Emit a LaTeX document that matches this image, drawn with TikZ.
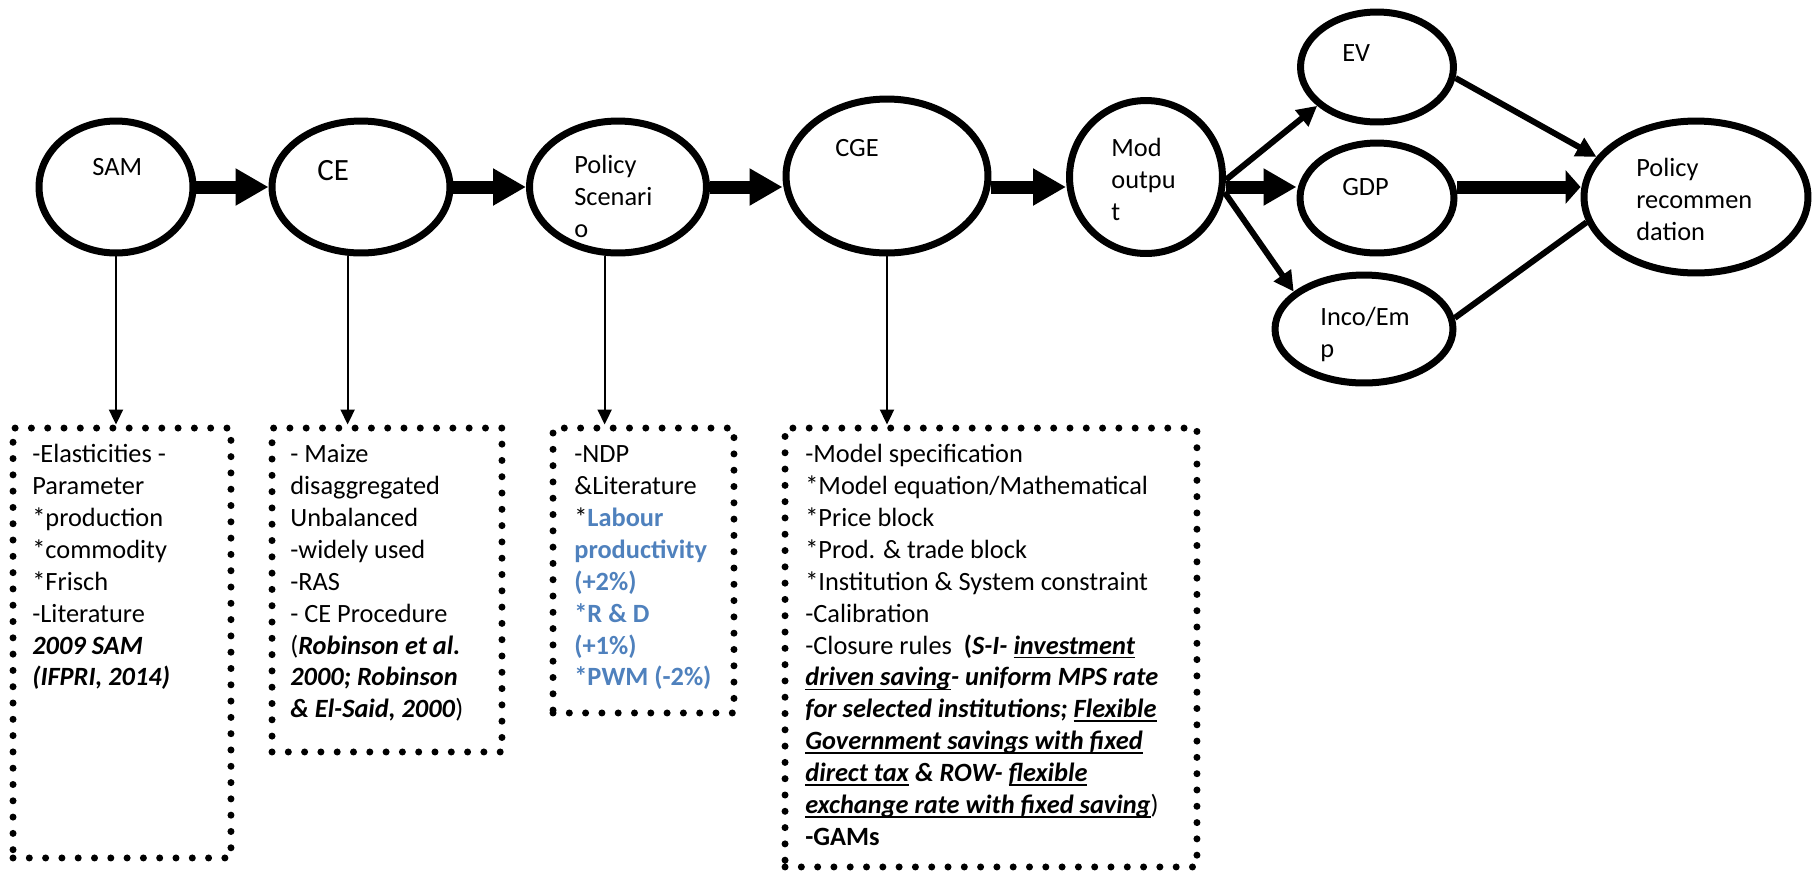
\documentclass[tikz,border=0pt]{standalone}
\usepackage{fontspec}
\setmainfont{Carlito}
\usetikzlibrary{arrows.meta}
\usetikzlibrary{shapes.geometric}
\usepackage{xcolor}
\definecolor{accentblue}{RGB}{79,129,189}
\newsavebox{\ulinebox}
\newcommand{\bluebold}[1]{\textcolor{accentblue}{\textbf{#1}}}
\newcommand{\boldit}[1]{\textbf{\textit{#1}}}
\newcommand{\bolditu}[1]{\sbox{\ulinebox}{\boldit{#1}}\rlap{\rule[-2.4pt]{\wd\ulinebox}{0.9pt}}\usebox{\ulinebox}}

\begin{document}
\begin{tikzpicture}[x=0.02cm, y=-0.02cm,
        bubble/.style={ellipse, draw, line width=0.14cm, inner sep=0pt},
        dotbox/.style={rectangle, draw, line width=0.14cm, line cap=round, dash pattern=on 0pt off 0.326cm, inner sep=0pt},
        txt/.style={anchor=north west, inner sep=0pt, align=left, font=\fontsize{15pt}{18.15pt}\selectfont},
        blockarrow/.style={line width=0.26cm, -{Triangle[length=0.66cm,width=0.70cm]}},
        slimarrow/.style={line width=0.12cm, -{Triangle[length=0.40cm,width=0.40cm]}},
        downarrow/.style={line width=0.04cm, -{Triangle[length=0.30cm,width=0.28cm]}}]

        \useasboundingbox (0,0) rectangle (1813,870);

        % ellipses
        \node[bubble, minimum width=3.08cm, minimum height=2.64cm] (sam) at (116,187) {};
        \node[bubble, minimum width=3.56cm, minimum height=2.64cm] (ce) at (361,187) {};
        \node[bubble, minimum width=3.54cm, minimum height=2.64cm] (scen) at (618,187) {};
        \node[bubble, minimum width=4.04cm, minimum height=3.08cm] (cge) at (887,176) {};
        \node[bubble, minimum width=3.06cm, minimum height=3.06cm] (mod) at (1146,177) {};
        \node[bubble, minimum width=3.06cm, minimum height=2.20cm] (ev) at (1377,67) {};
        \node[bubble, minimum width=3.08cm, minimum height=2.20cm] (gdp) at (1377,198) {};
        \node[bubble, minimum width=3.56cm, minimum height=2.16cm] (inco) at (1364,329) {};
        \node[bubble, minimum width=4.48cm, minimum height=3.04cm] (rec) at (1696,197) {};

        \node[txt] (samtxt) at (92,153) {\strut SAM};
        \node[txt, font=\fontsize{17.6pt}{21.3pt}\selectfont] (cetxt) at (317,154) {\strut CE};
        \node[txt] (scentxt) at (574,151) {\strut Policy\\Scenari\\o};
        \node[txt] (cgetxt) at (835,134) {\strut CGE};
        \node[txt] (modtxt) at (1111,134) {\strut Mod\\outpu\\t};
        \node[txt] (evtxt) at (1342,39) {\strut EV};
        \node[txt] (gdptxt) at (1342,173) {\strut GDP};
        \node[txt] (incotxt) at (1320,303) {\strut Inco/Em\\p};
        \node[txt] (rectxt) at (1636,154) {\strut Policy\\recommen\\dation};

        % dotted boxes
        \node[dotbox, minimum width=4.36cm, minimum height=8.60cm] (sambox) at (122,643) {};
        \node[dotbox, minimum width=4.60cm, minimum height=6.48cm] (cebox) at (387,590) {};
        \node[dotbox, minimum width=3.62cm, minimum height=5.70cm] (scenbox) at (643.5,570.5) {};
        \node[dotbox, minimum width=8.24cm, minimum height=8.78cm] (cgebox) at (991,647.5) {};

        \node[txt] (samlist) at (32,440) {\strut -Elasticities -\\Parameter\\*production\\*commodity\\*Frisch\\-Literature\\\boldit{2009 SAM}\\\boldit{(IFPRI, 2014)}};
        \node[txt] (celist) at (290,440) {\strut - Maize\\disaggregated\\Unbalanced\\-widely used\\-RAS\\- CE Procedure\\(\boldit{Robinson et al.}\\\boldit{2000; Robinson}\\\boldit{\& El-Said, 2000})};
        \node[txt] (scenlist) at (574,440) {\strut -NDP\\\&Literature\\*\bluebold{Labour}\\\bluebold{productivity}\\\bluebold{(+2\%)}\\\bluebold{*R \& D}\\\bluebold{(+1\%)}\\\bluebold{*PWM (-2\%)}};
        \node[txt] (cgelist) at (805,440) {\strut -Model specification\\*Model equation/Mathematical\\*Price block\\*Prod. \& trade block\\*Institution \& System constraint\\-Calibration\\-Closure rules~~\textbf{(}\boldit{S-I-} \bolditu{investment}\\\bolditu{driven saving}\boldit{- uniform MPS rate}\\\boldit{for selected institutions; }\bolditu{Flexible}\\\bolditu{Government savings with fixed}\\\bolditu{direct tax}\boldit{ \& ROW- }\bolditu{flexible}\\\bolditu{exchange rate with fixed saving})\\\textbf{-GAMs}};

        % main chain
        \draw[blockarrow] (sam) -- (ce);
        \draw[blockarrow] (ce) -- (scen);
        \draw[blockarrow] (scen) -- (cge.west |- scen);
        \draw[blockarrow] (cge.east |- scen) -- (mod.west |- scen);
        \draw[blockarrow] (mod.east |- scen) -- (gdp.west |- scen);
        \draw[line width=0.26cm, -{Triangle[length=0.30cm,width=0.66cm]}] (gdp.east |- scen) -- (rec.west |- scen);

        \draw[slimarrow] (mod.-2) -- (ev.213);
        \draw[slimarrow] (mod.-11) -- (inco.152);
        \draw[slimarrow] (ev.-8) -- (rec.158);
        \draw[line width=0.12cm] (inco.7) -- (rec.193);

        % down to the boxes
        \draw[downarrow] (sam.south) -- (sam.south |- sambox.north);
        \draw[downarrow] (ce.259) -- (ce.259 |- cebox.north);
        \draw[downarrow] (scen.259) -- (scen.259 |- scenbox.north);
        \draw[downarrow] (cge.south) -- (cge.south |- cgebox.north);
    \end{tikzpicture}
\end{document}
